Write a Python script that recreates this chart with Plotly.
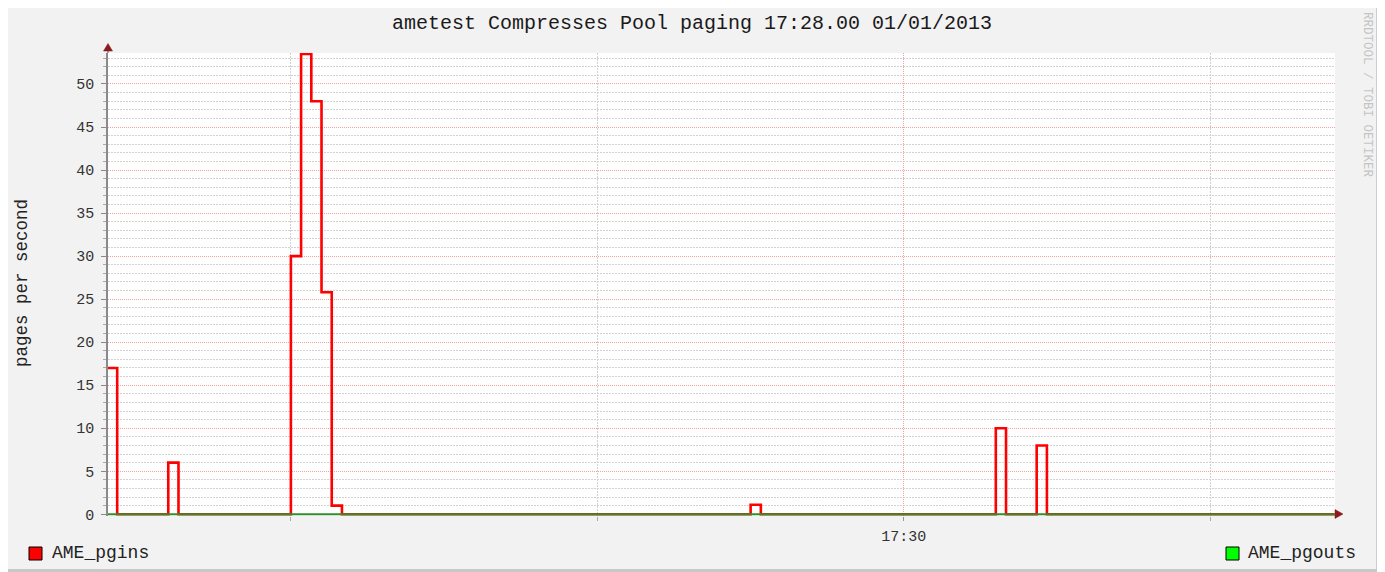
import plotly.graph_objects as go

# ---- data (seconds after 17:28:00, 1-second samples, step plot) ----
times = [42.1, 43, 48, 49, 60, 61, 62, 63, 64, 65, 105, 106, 129, 130, 133, 134, 162.2]
ame_pgins = [17, 0, 6, 0, 30, 53.5, 48, 25.8, 1, 0, 1.1, 0, 10, 0, 8, 0, 0]
ame_pgouts = [0, 0, 0, 0, 0, 0, 0, 0, 0, 0, 0, 0, 0, 0, 0, 0, 0]

title_text = "ametest Compresses Pool paging 17:28.00 01/01/2013"
y_title = "pages per second"
x_major_vals = [120]
x_major_text = ["17:30"]
x_minor_vals = [60, 90, 150]
series_names = ["AME_pgins", "AME_pgouts"]
series_colors = ["#ff0000", "#00ff00"]

# page has an 8px body margin: figure origin sits at page (8, 8)
OFF = 8
PAGE_W, PAGE_H = 1385, 572
W, H = PAGE_W - OFF, PAGE_H - OFF
# plot area in page pixels: x 108..1335, y 53..516
PL, PR, PT, PB = 108, 1335, 53, 516
L, R, T, B = PL - OFF, W - (PR - OFF), PT - OFF, H - (PB - OFF)
PW, PH = PR - PL, PB - PT
FONT = "Liberation Mono, Courier New, monospace"


def px(X):
    return (X - PL) / PW


def py(Y):
    return (PB - Y) / PH


fig = go.Figure()
fig.add_trace(go.Scatter(x=times, y=ame_pgins, mode="lines", line=dict(shape="hv", color="#ff0000", width=2.6),
                         name=series_names[0], showlegend=False, hoverinfo="skip"))
fig.add_trace(go.Scatter(x=times, y=ame_pgouts, mode="lines", line=dict(shape="hv", color="#2f8f2f", width=2),
                         name=series_names[1], showlegend=False, hoverinfo="skip"))

shapes = []
# frame (right and bottom shading)
shapes.append(dict(type="rect", xref="paper", yref="paper", x0=px(1377), x1=px(1386), y0=py(573), y1=py(7),
                   fillcolor="#c0c0c0", line=dict(width=0)))
shapes.append(dict(type="line", xref="paper", yref="paper", x0=px(1377), x1=px(1377), y0=py(570), y1=py(7),
                   line=dict(color="#a8a8a8", width=1)))
shapes.append(dict(type="rect", xref="paper", yref="paper", x0=px(7), x1=px(1386), y0=py(573), y1=py(569),
                   fillcolor="#c8c8c8", line=dict(width=0)))
# y axis extension + arrow
shapes.append(dict(type="line", xref="paper", yref="paper", x0=px(108), x1=px(108), y0=py(53), y1=py(49),
                   line=dict(color="#8a8a8a", width=1.5)))
shapes.append(dict(type="path", xref="paper", yref="paper",
                   path="M {a},{b} L {c},{d} L {e},{f} Z".format(a=px(103.5), b=py(51), c=px(108), d=py(43.5),
                                                                  e=px(112.5), f=py(51)),
                   fillcolor="#8b1a1a", line=dict(color="#8b1a1a", width=0.5)))
# x axis arrow
shapes.append(dict(type="line", xref="paper", yref="paper", x0=px(1334), x1=px(1338), y0=py(514), y1=py(514),
                   line=dict(color="#8a8a8a", width=1.5)))
shapes.append(dict(type="path", xref="paper", yref="paper",
                   path="M {a},{b} L {c},{d} L {e},{f} Z".format(a=px(1335), b=py(509.5), c=px(1343), d=py(514),
                                                                  e=px(1335), f=py(518.5)),
                   fillcolor="#8b1a1a", line=dict(color="#8b1a1a", width=0.5)))
# legend squares
shapes.append(dict(type="rect", xref="paper", yref="paper", x0=px(29), x1=px(42), y0=py(560), y1=py(547),
                   fillcolor=series_colors[0], line=dict(color="#000000", width=1)))
shapes.append(dict(type="rect", xref="paper", yref="paper", x0=px(1226), x1=px(1239), y0=py(560), y1=py(547),
                   fillcolor=series_colors[1], line=dict(color="#000000", width=1)))

annotations = [
    dict(text=y_title, xref="paper", yref="paper", x=px(22), y=py(283), textangle=-90, showarrow=False,
         xanchor="center", yanchor="middle", font=dict(family=FONT, size=17.5, color="#222222")),
    dict(text=series_names[0], xref="paper", yref="paper", x=px(50), y=py(553), showarrow=False,
         xanchor="left", yanchor="middle", font=dict(family=FONT, size=18, color="#222222")),
    dict(text=series_names[1], xref="paper", yref="paper", x=px(1246), y=py(553), showarrow=False,
         xanchor="left", yanchor="middle", font=dict(family=FONT, size=18, color="#222222")),
    dict(text="RRDTOOL / TOBI OETIKER", xref="paper", yref="paper", x=px(1367), y=py(95), textangle=90,
         showarrow=False, xanchor="center", yanchor="middle", font=dict(family=FONT, size=12.5, color="#c4c4c4")),
]

fig.update_layout(
    width=W, height=H,
    margin=dict(l=L, r=R, t=T, b=B, pad=0),
    paper_bgcolor="#f2f2f2", plot_bgcolor="#ffffff",
    title=dict(text=title_text, x=(692 - OFF) / W, xanchor="center", xref="container",
               y=1 - (22 - OFF) / H, yanchor="middle", yref="container",
               font=dict(family=FONT, size=20, color="#1a1a1a")),
    showlegend=False,
    shapes=shapes,
    annotations=annotations,
    xaxis=dict(range=[42.1, 162.2], tickmode="array", tickvals=x_major_vals, ticktext=x_major_text,
               showgrid=True, gridcolor="#f4a0a0", griddash="1px,1px", gridwidth=1,
               ticks="outside", ticklen=4, tickcolor="#999999", showline=False, zeroline=False,
               tickfont=dict(family=FONT, size=15, color="#333333"), ticklabelstandoff=2,
               minor=dict(tickmode="array", tickvals=x_minor_vals, showgrid=True, gridcolor="#d0d0d0",
                          griddash="2px,1px", ticks="outside", ticklen=4, tickcolor="#aaaaaa")),
    yaxis=dict(range=[-0.2, 53.6], tick0=0, dtick=5, showgrid=True, gridcolor="#f4a0a0", griddash="1px,1px",
               gridwidth=1, ticks="outside", ticklen=5, tickcolor="#888888", showline=True, linecolor="#8a8a8a",
               linewidth=1.5, zeroline=False, tickfont=dict(family=FONT, size=15, color="#333333"),
               ticklabelstandoff=4,
               minor=dict(dtick=1, showgrid=True, gridcolor="#d2d2d2", griddash="2px,1px", ticks="outside",
                          ticklen=3, tickcolor="#aaaaaa")),
)

fig.write_html("out.html")
